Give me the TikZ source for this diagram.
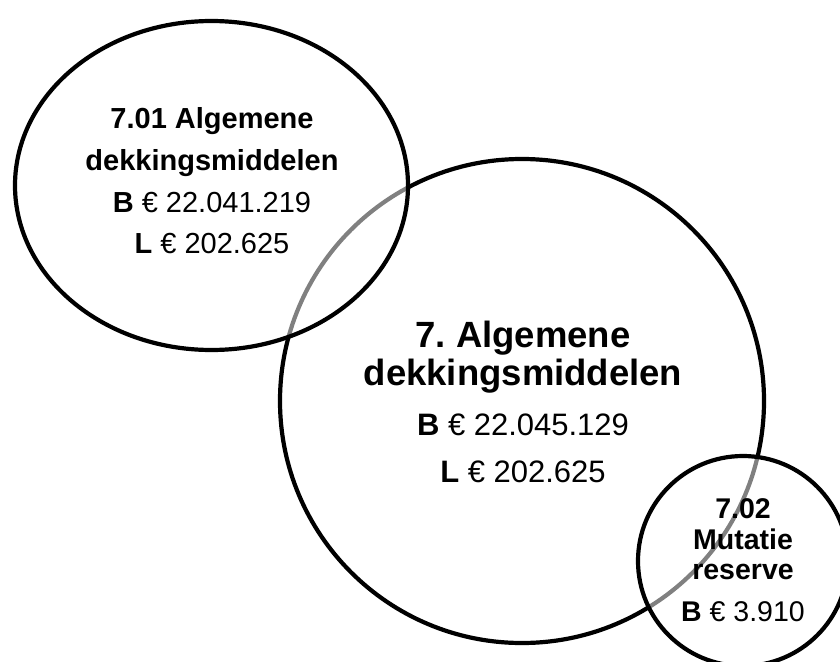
\documentclass[tikz,border=0pt]{standalone}
\usepackage{fontspec}
\setmainfont{Liberation Sans}
\usetikzlibrary{shapes.geometric}
\frenchspacing
\begin{document}
\begin{tikzpicture}[x=1pt,y=-1pt,
  ring/.style={draw=black,line width=4.2pt},
  overlay ring/.style={ring,fill=white,fill opacity=0.5,draw opacity=1},
  txt/.style={inner sep=0pt,anchor=base,text opacity=1},
  fl/.style={font=\fontsize{29}{29}\selectfont},
  fb/.style={font=\fontsize{36.5}{36.5}\selectfont\bfseries},
  fbn/.style={font=\fontsize{31}{31}\selectfont},
  fr/.style={font=\fontsize{28.5}{28.5}\selectfont}]
\useasboundingbox (0,0) rectangle (840,661);
\clip (0,0) rectangle (840,661);
% big circle
\node[ring,circle,minimum size=484pt,inner sep=0pt] (big) at (522,401) {};
% left ellipse
\node[overlay ring,ellipse,minimum width=393pt,minimum height=329pt,inner sep=0pt] (left) at (211.5,185.5) {};
% small right circle
\node[overlay ring,circle,minimum size=210pt,inner sep=0pt] (right) at (743,561) {};
% left texts
\node[txt,fl] (l1) at (212,128) {\textbf{7.01 Algemene}};
\node[txt,fl] (l2) at (212,170) {\textbf{dekkingsmiddelen}};
\node[txt,fl] (l3) at (212,212) {\textbf{B} € 22.041.219};
\node[txt,fl] (l4) at (212,253) {\textbf{L} € 202.625};
% big texts
\node[txt,fb] (b1) at (523,347) {7. Algemene};
\node[txt,fb] (b2) at (523,385) {dekkingsmiddelen};
\node[txt,fbn] (b3) at (523,435) {\textbf{B} € 22.045.129};
\node[txt,fbn] (b4) at (523,482) {\textbf{L} € 202.625};
% right texts
\node[txt,fr] (r1) at (743,518) {\textbf{7.02}};
\node[txt,fr] (r2) at (743,549) {\textbf{Mutatie}};
\node[txt,fr] (r3) at (743,579) {\textbf{reserve}};
\node[txt,fr] (r4) at (743,621) {\textbf{B} € 3.910};
\end{tikzpicture}
\end{document}
